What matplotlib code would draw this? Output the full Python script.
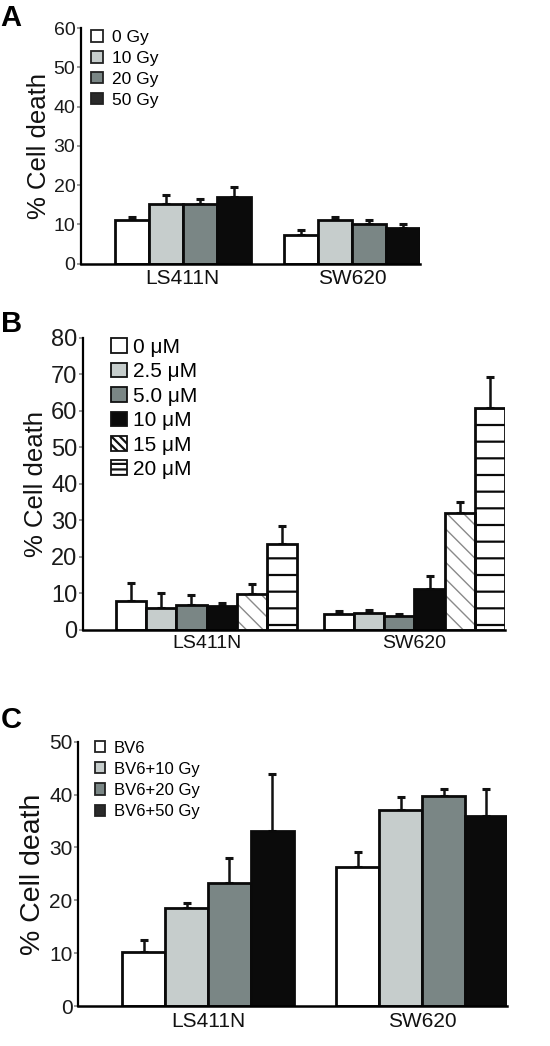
import numpy as np
import matplotlib
matplotlib.use('Agg')
import matplotlib.pyplot as plt
from matplotlib.patches import Patch

plt.rcParams['font.family'] = ['Liberation Sans', 'DejaVu Sans']
plt.rcParams['hatch.linewidth'] = 1.6

# ---- data ----
cells = ['LS411N', 'SW620']

# A: irradiation
a_labels = ['0 Gy', '10 Gy', '20 Gy', '50 Gy']
a_ls411n = [11.0, 15.1, 15.1, 16.9]
a_ls411n_err = [1.0, 2.5, 1.3, 2.6]
a_sw620 = [7.3, 11.0, 10.2, 9.2]
a_sw620_err = [1.2, 1.0, 0.8, 0.8]

# B: BV6 dose
b_labels = ['0 \u03bcM', '2.5 \u03bcM', '5.0 \u03bcM', '10 \u03bcM', '15 \u03bcM', '20 \u03bcM']
b_ls411n = [7.8, 5.9, 6.7, 6.6, 9.85, 23.5]
b_ls411n_err = [5.0, 4.1, 2.9, 0.7, 2.7, 5.0]
b_sw620 = [4.4, 4.7, 3.8, 11.2, 31.9, 60.9]
b_sw620_err = [0.6, 0.6, 0.4, 3.4, 3.2, 8.3]

# C: BV6 + irradiation
c_labels = ['BV6', 'BV6+10 Gy', 'BV6+20 Gy', 'BV6+50 Gy']
c_ls411n = [10.25, 18.6, 23.2, 33.2]
c_ls411n_err = [2.2, 1.0, 4.8, 10.6]
c_sw620 = [26.3, 37.0, 39.8, 35.9]
c_sw620_err = [2.8, 2.5, 1.3, 5.1]

white = '#ffffff'
light = '#c6cdcc'
mid = '#7a8685'
black = '#0b0b0b'

fig = plt.figure(figsize=(5.5, 10.46), dpi=100)


def style_axes(ax, ymax, step, tick_fs, xlab_fs, ylab_fs):
    ax.set_ylim(0, ymax)
    ax.set_yticks(np.arange(0, ymax + 1, step))
    ax.spines['top'].set_visible(False)
    ax.spines['right'].set_visible(False)
    ax.spines['left'].set_linewidth(1.6)
    ax.spines['bottom'].set_linewidth(1.8)
    ax.tick_params(axis='y', length=3, width=1.2, color='#888888',
                   labelsize=tick_fs, labelcolor='#1a1a1a', pad=1)
    ax.tick_params(axis='x', length=0, labelsize=xlab_fs, labelcolor='#111111', pad=4)
    ax.set_xticks([0, 1])
    ax.set_xticklabels(cells)
    ax.set_ylabel('% Cell death', fontsize=ylab_fs, color='#111111', labelpad=2)


def grouped(ax, vals1, err1, vals2, err2, colors, width, hatches=None, hatch_cols=None):
    n = len(colors)
    offs = (np.arange(n) - (n - 1) / 2) * width
    for i in range(n):
        x = np.array([0, 1]) + offs[i]
        h = [vals1[i], vals2[i]]
        e = [err1[i], err2[i]]
        ax.errorbar(x, h, yerr=[[0, 0], e], fmt='none', ecolor='#111111',
                    elinewidth=1.8, capsize=3, capthick=2.2, zorder=1)
        if hatches and hatches[i]:
            bars = ax.bar(x, h, width, color=colors[i], edgecolor=hatch_cols[i],
                          hatch=hatches[i], linewidth=0, zorder=2)
            if hatches[i].startswith('\\'):
                for b in bars:
                    if hasattr(b, 'set_hatch_linewidth'):
                        b.set_hatch_linewidth(1.0)
            ax.bar(x, h, width, fill=False, edgecolor='#0a0a0a', linewidth=2.0, zorder=3)
        else:
            ax.bar(x, h, width, color=colors[i], edgecolor='#0a0a0a',
                   linewidth=2.0, zorder=2)


# ---- Panel A ----
axA = fig.add_axes([0.147, 0.748, 0.617, 0.225])
colsA = [white, light, mid, black]
grouped(axA, a_ls411n, a_ls411n_err, a_sw620, a_sw620_err, colsA, 0.2)
axA.set_xlim(-0.6, 1.4)
style_axes(axA, 60, 10, 14, 15, 18.5)
handlesA = [Patch(facecolor=c, edgecolor='#222222', linewidth=1.3) for c in
            [white, light, mid, '#2a2a2a']]
axA.legend(handlesA, a_labels, loc='upper left', bbox_to_anchor=(0.166, 0.971),
           bbox_transform=fig.transFigure, frameon=False, fontsize=12.5,
           handlelength=0.65, handleheight=0.65, handletextpad=0.55,
           labelspacing=0.33, borderpad=0, borderaxespad=0)
fig.text(0.0, 0.996, 'A', fontsize=21, fontweight='bold', va='top')

# ---- Panel B ----
axB = fig.add_axes([0.151, 0.398, 0.767, 0.279])
colsB = [white, light, mid, black, white, white]
hatchB = [None, None, None, None, '\\\\', '-']
hcolB = [None, None, None, None, '#8a8a8a', '#0a0a0a']
grouped(axB, b_ls411n, b_ls411n_err, b_sw620, b_sw620_err, colsB, 0.145,
        hatches=hatchB, hatch_cols=hcolB)
axB.set_xlim(-0.594, 1.435)
style_axes(axB, 80, 10, 17, 14, 18.5)
handlesB = [Patch(facecolor=c, edgecolor='#111111', linewidth=1.3, hatch=h) for c, h in
            zip(colsB, [None, None, None, None, '\\\\\\\\', '---'])]
axB.legend(handlesB, b_labels, loc='upper left', bbox_to_anchor=(0.202, 0.677),
           bbox_transform=fig.transFigure, frameon=False, fontsize=15,
           handlelength=0.75, handleheight=0.7, handletextpad=0.3,
           labelspacing=0.26, borderpad=0, borderaxespad=0)
fig.text(0.002, 0.704, 'B', fontsize=21, fontweight='bold', va='top')

# ---- Panel C ----
axC = fig.add_axes([0.142, 0.038, 0.78, 0.253])
colsC = [white, light, mid, black]
grouped(axC, c_ls411n, c_ls411n_err, c_sw620, c_sw620_err, colsC, 0.2)
axC.set_xlim(-0.607, 1.397)
style_axes(axC, 50, 10, 15, 15, 20.5)
handlesC = [Patch(facecolor=c, edgecolor='#222222', linewidth=1.3) for c in
            [white, light, mid, '#2a2a2a']]
axC.legend(handlesC, c_labels, loc='upper left', bbox_to_anchor=(0.172, 0.292),
           bbox_transform=fig.transFigure, frameon=False, fontsize=12,
           handlelength=0.65, handleheight=0.65, handletextpad=0.5,
           labelspacing=0.37, borderpad=0, borderaxespad=0)
fig.text(0.002, 0.325, 'C', fontsize=21, fontweight='bold', va='top')

fig.savefig('out.png', dpi=100)
